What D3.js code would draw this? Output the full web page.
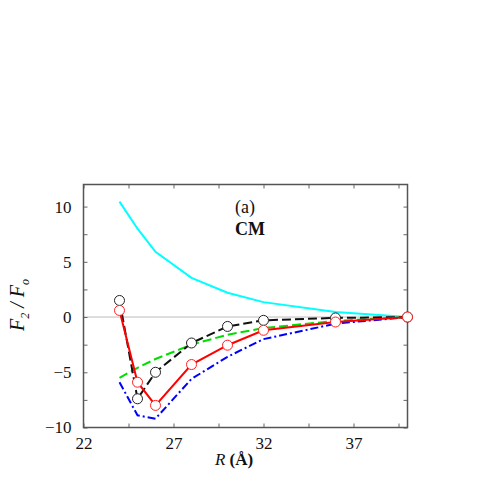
<!DOCTYPE html>
<html>
<head>
<meta charset="utf-8">
<script src="https://cdn.jsdelivr.net/npm/d3@7"></script>
<style>
  body { margin: 0; background: #fff; }
  svg { display: block; }
  text { font-family: "Times New Roman", Times, "Liberation Serif", "Nimbus Roman", serif; fill: #111; }
</style>
</head>
<body>
<div id="chart"></div>
<script>
// Data
const rValues = [24, 25, 26, 28, 30, 32, 36, 40];
const cyanValues  = [10.45, 8.0, 5.9, 3.55, 2.2, 1.35, 0.45, 0];
const greenValues = [-5.5, -4.6, -3.8, -2.5, -1.6, -1.0, -0.35, 0];
const blueValues  = [-5.9, -8.9, -9.2, -5.6, -3.6, -2.0, -0.6, 0];
const blackValues = [1.5, -7.4, -5.0, -2.35, -0.85, -0.3, -0.08, 0];
const redValues   = [0.6, -5.9, -8.0, -4.3, -2.55, -1.2, -0.45, 0];
const xTickLabels = [22, 27, 32, 37];
const yTickLabels = [-10, -5, 0, 5, 10];

// Dimensions
const W = 491, H = 491;
const margin = {left: 83.5, right: 83.5, top: 184.5, bottom: 63.5};
const width = W - margin.left - margin.right;
const height = H - margin.top - margin.bottom;

// Scales
const xScale = d3.scaleLinear().domain([22, 40]).range([0, width]);
const yScale = d3.scaleLinear().domain([-10, 12]).range([height, 0]);

const svg = d3.select("#chart").append("svg")
    .attr("width", W)
    .attr("height", H);
const g = svg.append("g")
    .attr("transform", `translate(${margin.left},${margin.top})`);

// zero line
g.append("line")
    .attr("x1", 0).attr("x2", width)
    .attr("y1", yScale(0)).attr("y2", yScale(0))
    .attr("stroke", "#bbb").attr("stroke-width", 1);

// Axes (inward ticks on all four sides, labels every 5, minor every 2.5)
const xTicks = d3.range(22, 40.01, 2.5);
const yTicks = d3.range(-10, 12.01, 2.5);
const fmt = d => xTickLabels.includes(d) ? d : "";
const fmtY = d => yTickLabels.includes(d) ? (d < 0 ? "\u2212" + Math.abs(d) : d) : "";

const xAxis = g.append("g")
    .attr("transform", `translate(0,${height})`)
    .call(d3.axisBottom(xScale).tickValues(xTicks).tickSize(-4).tickPadding(9).tickFormat(fmt));
const xAxisTop = g.append("g")
    .call(d3.axisTop(xScale).tickValues(xTicks).tickSize(-4).tickFormat(""));
const yAxis = g.append("g")
    .call(d3.axisLeft(yScale).tickValues(yTicks).tickSize(-4).tickPadding(12).tickFormat(fmtY));
const yAxisRight = g.append("g")
    .attr("transform", `translate(${width},0)`)
    .call(d3.axisRight(yScale).tickValues(yTicks).tickSize(-4).tickFormat(""));

[xAxis, xAxisTop, yAxis, yAxisRight].forEach(a => {
  a.select(".domain").remove();
  a.selectAll(".tick line").attr("stroke", "#666").attr("stroke-width", 1);
  a.selectAll(".tick text")
      .style("font-size", "17px")
      .attr("fill", "#111");
});

// frame
g.append("rect")
    .attr("width", width).attr("height", height)
    .attr("fill", "none").attr("stroke", "#555").attr("stroke-width", 1.5);

// Lines
const line = vals => d3.line()
    .x((d, i) => xScale(rValues[i]))
    .y(d => yScale(d))(vals);

const series = [
  {vals: cyanValues,  color: "#00ffff", dash: null},
  {vals: greenValues, color: "#00dd00", dash: "9,4"},
  {vals: blueValues,  color: "#0000ff", dash: "8,3,2,3"},
  {vals: blackValues, color: "#111",    dash: "9,4", markers: "#222"},
  {vals: redValues,   color: "#ff0000", dash: null, markers: "#ff2020"}
];

series.forEach(s => {
  g.append("path")
      .attr("d", line(s.vals))
      .attr("fill", "none")
      .attr("stroke", s.color)
      .attr("stroke-width", 2)
      .attr("stroke-dasharray", s.dash);
});

series.filter(s => s.markers).forEach(s => {
  g.selectAll(null)
      .data(s.vals)
    .enter().append("circle")
      .attr("cx", (d, i) => xScale(rValues[i]))
      .attr("cy", d => yScale(d))
      .attr("r", 5)
      .attr("fill", "#fff")
      .attr("stroke", s.markers)
      .attr("stroke-width", 1);
});

// annotations
svg.append("text")
    .attr("x", 235).attr("y", 213)
    .style("font-size", "18px")
    .text("(a)");
svg.append("text")
    .attr("x", 235).attr("y", 235)
    .style("font-size", "18px")
    .attr("font-weight", "bold")
    .text("CM");

// x label
const xl = svg.append("text")
    .attr("x", 234).attr("y", 465)
    .attr("text-anchor", "middle")
    .style("font-size", "17px");
xl.append("tspan").attr("font-style", "italic").text("R");
xl.append("tspan").attr("font-weight", "bold").text(" (\u00c5)");

// y label
const yl = svg.append("text")
    .attr("transform", "translate(24,305) rotate(-90)")
    .attr("text-anchor", "middle")
    .style("font-size", "20px")
    .attr("font-style", "italic");
yl.append("tspan").text("F");
yl.append("tspan").style("font-size", "12px").attr("dy", 5).text("2");
yl.append("tspan").attr("dy", -5).text(" / F");
yl.append("tspan").style("font-size", "12px").attr("dy", 5).text("o");
</script>
</body>
</html>
